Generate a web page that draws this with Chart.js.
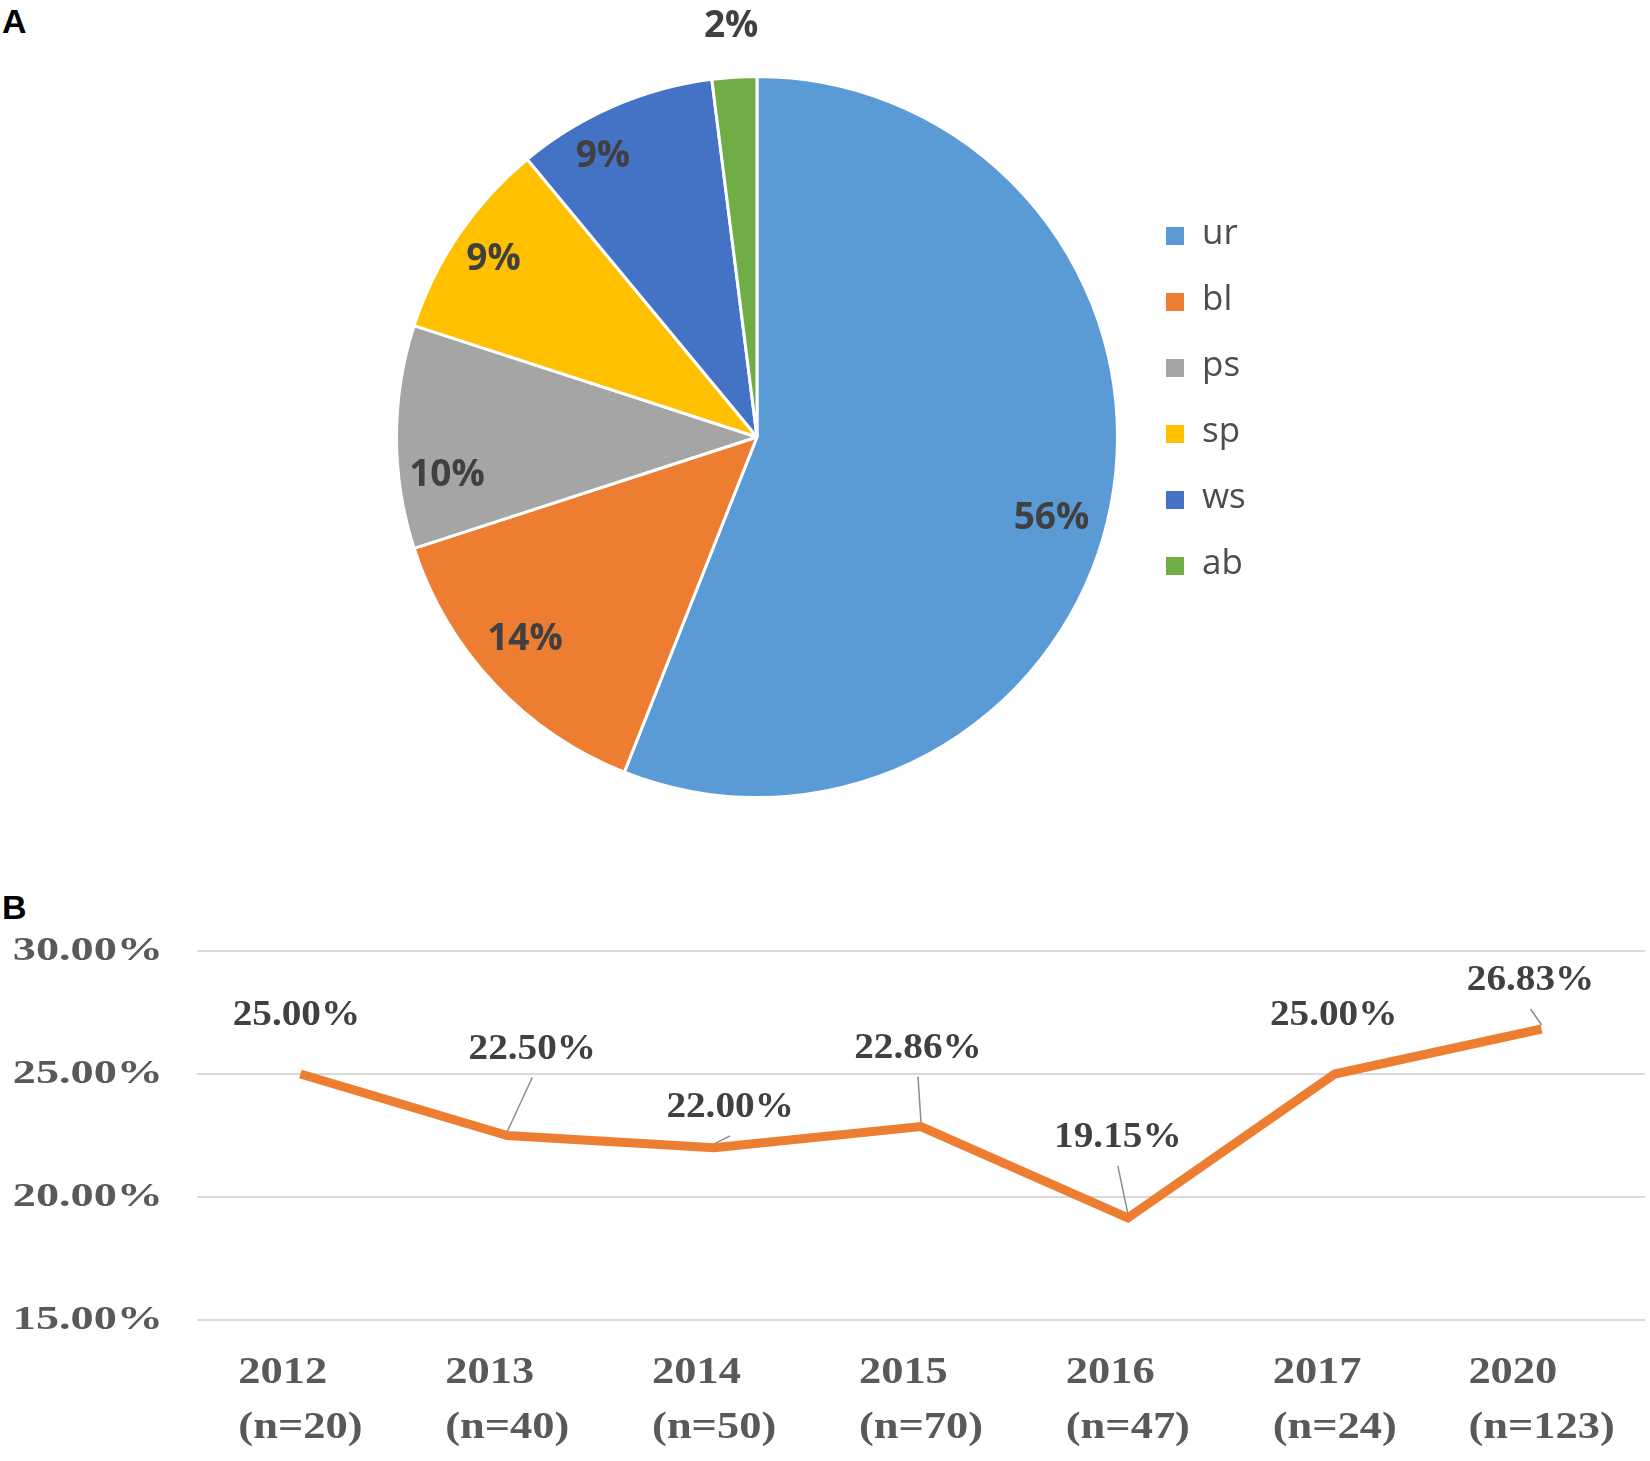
<!DOCTYPE html>
<html>
<head>
<meta charset="utf-8">
<script src="https://cdn.jsdelivr.net/npm/chart.js@4.4.1/dist/chart.umd.min.js"></script>
<style>
  html, body { margin: 0; padding: 0; background: #fff; }
  body { width: 1650px; height: 1461px; position: relative; overflow: hidden; }
  .tag { position: absolute; font: bold 34px "Liberation Sans", Arial, sans-serif; line-height: 1; color: #000; }
  #boxA { position: absolute; left: 0; top: 0; width: 1650px; height: 840px; }
  #boxB { position: absolute; left: 0; top: 840px; width: 1650px; height: 621px; }
</style>
</head>
<body>
<div class="tag" style="left:2px; top:4px;">A</div>
<div class="tag" style="left:2px; top:890px;">B</div>
<div id="boxA"><canvas id="pie-chart"></canvas></div>
<div id="boxB"><canvas id="trend-chart"></canvas></div>
<script>
// panel A - share of each type
let pieLabels = ['ur', 'bl', 'ps', 'sp', 'ws', 'ab'];
let pieValues = [56, 14, 10, 9, 9, 2];

// panel B - rate per year
let years = ['2012', '2013', '2014', '2015', '2016', '2017', '2020'];
let sampleSizes = [20, 40, 50, 70, 47, 24, 123];
let rates = [25.00, 22.50, 22.00, 22.86, 19.15, 25.00, 26.83];
let rateTicks = [15, 20, 25, 30];

// styling only
let pieColors = ['#5B9BD5', '#ED7D31', '#A5A5A5', '#FFC000', '#4472C4', '#70AD47'];
let pieNudge = [[-10, 23], [-6, -10], [0, 38], [-7, -3], [-31, 4], [0, 0]];
let rateLabelShift = [[-4, -58], [25, -86], [16, -40], [-3, -78], [-10, -80], [-1, -58], [-11, -48]];
let rateLeader = [false, true, true, true, true, false, true];

function wideText(ctx, text, x, y, sx, align) {
    ctx.save();
    ctx.translate(x, y);
    ctx.scale(sx, 1);
    ctx.textAlign = align;
    ctx.fillText(text, 0, 0);
    ctx.restore();
}

const pieText = {
    id: 'pieText',
    afterDatasetsDraw(chart) {
        let ctx = chart.ctx;
        let meta = chart.getDatasetMeta(0);
        let total = pieValues.reduce((a, b) => a + b, 0);
        ctx.save();
        ctx.font = 'bold 37px "Open Sans", sans-serif';
        ctx.fillStyle = '#404040';
        ctx.textAlign = 'center';
        ctx.textBaseline = 'middle';
        meta.data.forEach((arc, i) => {
            let p = arc.getProps(['x', 'y', 'startAngle', 'endAngle', 'outerRadius'], true);
            let mid = (p.startAngle + p.endAngle) / 2;
            let share = pieValues[i] / total;
            let k = share < 0.05 ? 1.14 : 0.86;
            let lx = p.x + Math.cos(mid) * p.outerRadius * k + pieNudge[i][0];
            let ly = p.y + Math.sin(mid) * p.outerRadius * k + pieNudge[i][1];
            ctx.fillText(Math.round(share * 100) + '%', lx, ly);
        });

        // legend on the right
        ctx.font = '35px "Open Sans", sans-serif';
        ctx.textAlign = 'left';
        pieLabels.forEach((lab, i) => {
            let y = 236 + i * 66;
            ctx.fillStyle = pieColors[i];
            ctx.fillRect(1166, y - 9, 18, 18);
            ctx.fillStyle = '#4d4d4d';
            ctx.fillText(lab, 1202, y - 2);
        });
        ctx.restore();
    }
};

new Chart(document.getElementById('pie-chart'), {
    type: 'pie',
    data: {
        labels: pieLabels,
        datasets: [{
            data: pieValues,
            backgroundColor: pieColors,
            borderColor: '#ffffff',
            borderWidth: 3,
            hoverOffset: 0
        }]
    },
    options: {
        responsive: true,
        maintainAspectRatio: false,
        animation: false,
        layout: { padding: { left: 395, top: 75, right: 531, bottom: 41 } },
        plugins: { legend: { display: false }, tooltip: { enabled: false } }
    },
    plugins: [pieText]
});

const trendText = {
    id: 'trendText',
    beforeDatasetsDraw(chart) {
        let ctx = chart.ctx;
        let meta = chart.getDatasetMeta(0);
        ctx.save();
        ctx.strokeStyle = '#8c8c8c';
        ctx.lineWidth = 1.5;
        meta.data.forEach((pt, i) => {
            if (!rateLeader[i]) return;
            let lx = pt.x + rateLabelShift[i][0];
            let ly = pt.y + rateLabelShift[i][1];
            ctx.beginPath();
            ctx.moveTo(lx, ly + 28);
            ctx.lineTo(pt.x, pt.y - 4);
            ctx.stroke();
        });
        ctx.restore();
    },
    afterDatasetsDraw(chart) {
        let ctx = chart.ctx;
        let xs = chart.scales.x;
        let ys = chart.scales.y;
        let area = chart.chartArea;
        ctx.save();
        ctx.textBaseline = 'middle';

        // y tick labels
        ctx.font = 'bold 33px "Liberation Serif", "Times New Roman", serif';
        ctx.fillStyle = '#595959';
        ys.ticks.forEach(t => {
            wideText(ctx, t.value.toFixed(2) + '%', 163, ys.getPixelForValue(t.value), 1.4, 'right');
        });

        // category labels, two lines, left aligned block centred on the tick
        ctx.font = 'bold 38px "Liberation Serif", "Times New Roman", serif';
        years.forEach((yr, i) => {
            let lines = [yr, '(n=' + sampleSizes[i] + ')'];
            let w = Math.max(...lines.map(s => ctx.measureText(s).width)) * 1.17;
            let left = xs.getPixelForValue(i) - w / 2;
            wideText(ctx, lines[0], left, area.bottom + 53, 1.17, 'left');
            wideText(ctx, lines[1], left, area.bottom + 108, 1.17, 'left');
        });

        // value labels
        ctx.font = 'bold 36px "Liberation Serif", "Times New Roman", serif';
        ctx.fillStyle = '#404040';
        chart.getDatasetMeta(0).data.forEach((pt, i) => {
            wideText(ctx, rates[i].toFixed(2) + '%', pt.x + rateLabelShift[i][0], pt.y + rateLabelShift[i][1], 1.09, 'center');
        });
        ctx.restore();
    }
};

new Chart(document.getElementById('trend-chart'), {
    type: 'line',
    data: {
        labels: years,
        datasets: [{
            data: rates,
            borderColor: '#ED7D31',
            borderWidth: 9,
            pointRadius: 0,
            tension: 0,
            fill: false
        }]
    },
    options: {
        responsive: true,
        maintainAspectRatio: false,
        animation: false,
        layout: { padding: { left: 197, right: 5, top: 111, bottom: 141 } },
        plugins: { legend: { display: false }, tooltip: { enabled: false } },
        scales: {
            x: {
                offset: true,
                grid: { display: false, drawTicks: false },
                border: { display: false },
                ticks: { display: false }
            },
            y: {
                min: 15,
                max: 30,
                afterBuildTicks: s => { s.ticks = rateTicks.map(v => ({ value: v })); },
                grid: { color: '#d9d9d9', lineWidth: 2, drawTicks: false },
                border: { display: false },
                ticks: { display: false }
            }
        }
    },
    plugins: [trendText]
});
</script>
</body>
</html>
